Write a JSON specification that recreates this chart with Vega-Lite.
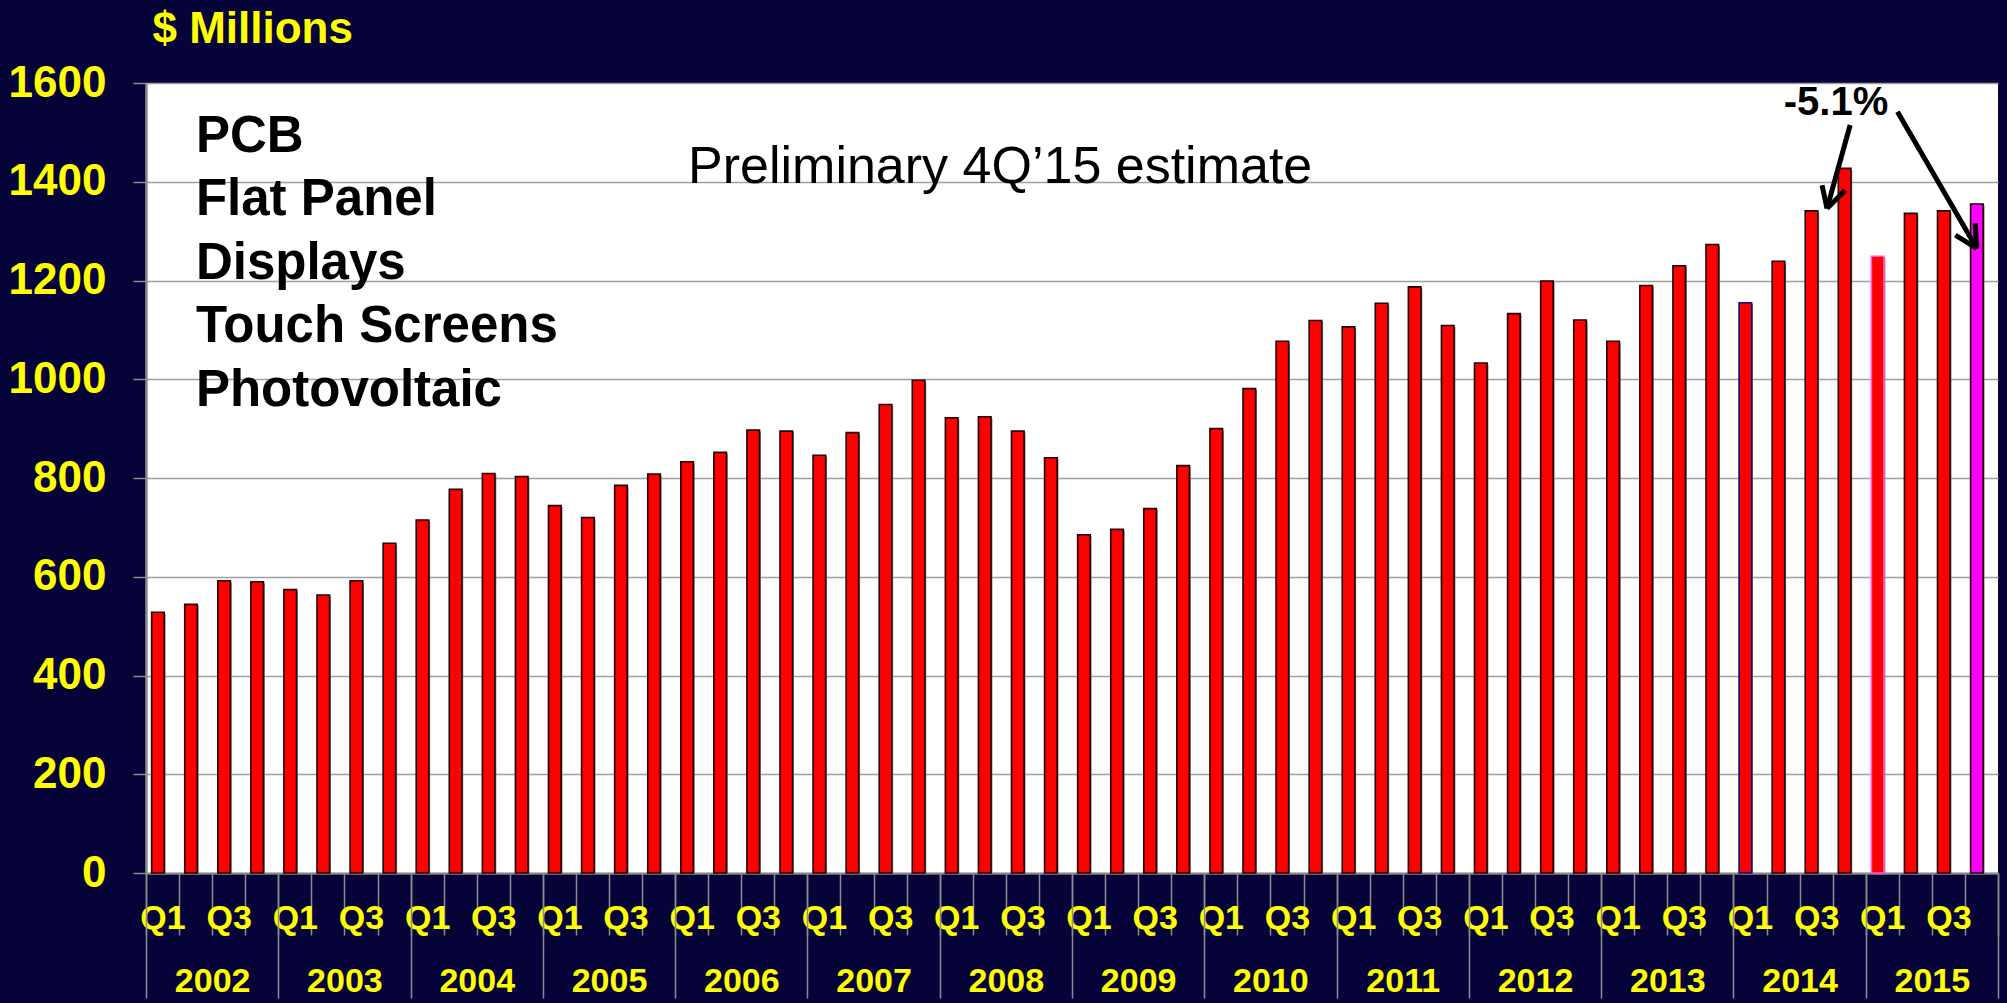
{
  "$schema": "https://vega.github.io/schema/vega-lite/v6.json",
  "width": 1852,
  "height": 790,
  "autosize": {"type": "none"},
  "padding": {"left": 146, "top": 83, "right": 9, "bottom": 130},
  "background": "#060339",
  "config": {
    "view": {"fill": "#FFFFFF", "stroke": null},
    "font": "Liberation Sans",
    "axis": {"labelFont": "Liberation Sans", "titleFont": "Liberation Sans"}
  },
  "datasets": {
    "quarters": [
      {"period": "2002 Q1", "v": 528}, {"period": "2002 Q2", "v": 544}, {"period": "2002 Q3", "v": 592}, {"period": "2002 Q4", "v": 590},
      {"period": "2003 Q1", "v": 574}, {"period": "2003 Q2", "v": 563}, {"period": "2003 Q3", "v": 592}, {"period": "2003 Q4", "v": 668},
      {"period": "2004 Q1", "v": 715}, {"period": "2004 Q2", "v": 777}, {"period": "2004 Q3", "v": 809}, {"period": "2004 Q4", "v": 803},
      {"period": "2005 Q1", "v": 744}, {"period": "2005 Q2", "v": 720}, {"period": "2005 Q3", "v": 785}, {"period": "2005 Q4", "v": 808},
      {"period": "2006 Q1", "v": 833}, {"period": "2006 Q2", "v": 852}, {"period": "2006 Q3", "v": 897}, {"period": "2006 Q4", "v": 895},
      {"period": "2007 Q1", "v": 846}, {"period": "2007 Q2", "v": 892}, {"period": "2007 Q3", "v": 949}, {"period": "2007 Q4", "v": 998},
      {"period": "2008 Q1", "v": 922}, {"period": "2008 Q2", "v": 924}, {"period": "2008 Q3", "v": 895}, {"period": "2008 Q4", "v": 841},
      {"period": "2009 Q1", "v": 685}, {"period": "2009 Q2", "v": 696}, {"period": "2009 Q3", "v": 738}, {"period": "2009 Q4", "v": 825},
      {"period": "2010 Q1", "v": 900}, {"period": "2010 Q2", "v": 981}, {"period": "2010 Q3", "v": 1077}, {"period": "2010 Q4", "v": 1119},
      {"period": "2011 Q1", "v": 1106}, {"period": "2011 Q2", "v": 1154}, {"period": "2011 Q3", "v": 1187}, {"period": "2011 Q4", "v": 1109},
      {"period": "2012 Q1", "v": 1033}, {"period": "2012 Q2", "v": 1133}, {"period": "2012 Q3", "v": 1199}, {"period": "2012 Q4", "v": 1120},
      {"period": "2013 Q1", "v": 1077}, {"period": "2013 Q2", "v": 1190}, {"period": "2013 Q3", "v": 1230}, {"period": "2013 Q4", "v": 1273},
      {"period": "2014 Q1", "v": 1155}, {"period": "2014 Q2", "v": 1239}, {"period": "2014 Q3", "v": 1341}, {"period": "2014 Q4", "v": 1427},
      {"period": "2015 Q1", "v": 1249}, {"period": "2015 Q2", "v": 1336}, {"period": "2015 Q3", "v": 1341}, {"period": "2015 Q4", "v": 1355}
    ],
    "years": [
      {"year": "2002"}, {"year": "2003"}, {"year": "2004"}, {"year": "2005"}, {"year": "2006"}, {"year": "2007"}, {"year": "2008"},
      {"year": "2009"}, {"year": "2010"}, {"year": "2011"}, {"year": "2012"}, {"year": "2013"}, {"year": "2014"}, {"year": "2015"}
    ],
    "list": [
      {"label": "PCB", "x": 1.51, "v": 1461},
      {"label": "Flat Panel", "x": 1.51, "v": 1332},
      {"label": "Displays", "x": 1.51, "v": 1204},
      {"label": "Touch Screens", "x": 1.51, "v": 1075},
      {"label": "Photovoltaic", "x": 1.51, "v": 946}
    ],
    "note": [
      {"label": "Preliminary 4Q\u201915 estimate", "x": 16.39, "v": 1397}
    ],
    "pct": [
      {"label": "-5.1%", "x": 51.1, "v": 1535}
    ],
    "arrows": [
      {"x": 51.53, "v": 1515, "x2": 50.83, "v2": 1346},
      {"x": 50.68, "v": 1393, "x2": 50.83, "v2": 1346},
      {"x": 51.38, "v": 1383, "x2": 50.83, "v2": 1346},
      {"x": 52.96, "v": 1542, "x2": 55.36, "v2": 1265},
      {"x": 54.71, "v": 1292, "x2": 55.36, "v2": 1265},
      {"x": 55.31, "v": 1316, "x2": 55.36, "v2": 1265}
    ]
  },
  "layer": [
    {
      "data": {"name": "quarters"},
      "mark": {"type": "bar", "width": {"band": 0.38}, "xOffset": -3.2, "yOffset": 1.5, "fill": "#7A7A7A", "stroke": null},
      "encoding": {
        "x": {"field": "period", "type": "nominal", "sort": null, "scale": {"paddingInner": 0, "paddingOuter": 0}, "axis": null},
        "y": {"field": "v", "type": "quantitative", "scale": {"domain": [0, 1600], "nice": false}, "axis": null}
      }
    },
    {
      "data": {"name": "quarters"},
      "mark": {"type": "bar", "width": {"band": 0.38}, "xOffset": -4.6, "strokeWidth": 1.6},
      "encoding": {
        "x": {
          "field": "period", "type": "nominal", "sort": null,
          "scale": {"paddingInner": 0, "paddingOuter": 0},
          "axis": {
            "orient": "bottom", "title": null, "labelAngle": 0, "tickBand": "extent",
            "tickSize": 62, "tickColor": "#8C8C8C", "tickWidth": 1.5,
            "domainColor": "#8C8C8C", "domainWidth": 2,
            "labelColor": "#FFFF00", "labelFontSize": 34, "labelFontWeight": "bold",
            "labelBaseline": "alphabetic", "labelPadding": -7,
            "labelOverlap": false, "labelBound": false, "labelFlush": false, "grid": false,
            "labelExpr": "(slice(datum.label, 5) === 'Q1' || slice(datum.label, 5) === 'Q3') ? slice(datum.label, 5) : ''"
          }
        },
        "y": {
          "field": "v", "type": "quantitative",
          "scale": {"domain": [0, 1600], "nice": false},
          "axis": {
            "orient": "left", "format": "d",
            "title": "$ Millions", "titleAngle": 0, "titleX": 6, "titleY": -41,
            "titleAlign": "left", "titleBaseline": "alphabetic", "titleColor": "#FFFF00",
            "titleFontSize": 44, "titleFontWeight": "bold",
            "values": [0, 200, 400, 600, 800, 1000, 1200, 1400, 1600],
            "labelColor": "#FFFF00", "labelFontSize": 44, "labelFontWeight": "bold",
            "labelPadding": 27, "labelFlush": false, "labelBound": false, "labelOverlap": false,
            "tickSize": 13, "tickColor": "#8C8C8C", "tickWidth": 1.5,
            "domainColor": "#8C8C8C", "domainWidth": 2.5,
            "grid": true, "gridColor": "#A0A0A0", "gridWidth": 1.5
          }
        },
        "fill": {"condition": {"test": "datum.period === '2015 Q4'", "value": "#FF00FF"}, "value": "#FF0000"},
        "stroke": {
          "condition": [
            {"test": "datum.period === '2014 Q1'", "value": "#101070"},
            {"test": "datum.period === '2015 Q1'", "value": "#FF55DD"}
          ],
          "value": "#200000"
        }
      }
    },
    {
      "data": {"name": "years"},
      "mark": {"type": "rule", "opacity": 0},
      "encoding": {
        "x": {
          "field": "year", "type": "nominal", "sort": null,
          "scale": {"paddingInner": 0, "paddingOuter": 0},
          "axis": {
            "orient": "bottom", "title": null, "labelAngle": 0, "tickBand": "extent",
            "tickSize": 125, "tickColor": "#8C8C8C", "tickWidth": 1.5, "domain": false,
            "labelColor": "#FFFF00", "labelFontSize": 34, "labelFontWeight": "bold",
            "labelBaseline": "alphabetic", "labelPadding": -7,
            "labelOverlap": false, "labelBound": false, "labelFlush": false, "grid": false
          }
        }
      }
    },
    {
      "data": {"name": "list"},
      "mark": {"type": "text", "align": "left", "baseline": "alphabetic", "fontSize": 51, "fontWeight": "bold", "color": "#000000"},
      "encoding": {
        "x": {"field": "x", "type": "quantitative", "scale": {"domain": [0, 56], "nice": false, "zero": false}, "axis": null},
        "y": {"field": "v", "type": "quantitative", "scale": {"domain": [0, 1600], "nice": false}, "axis": null},
        "text": {"field": "label"}
      }
    },
    {
      "data": {"name": "note"},
      "mark": {"type": "text", "align": "left", "baseline": "alphabetic", "fontSize": 52, "fontWeight": "normal", "color": "#000000"},
      "encoding": {
        "x": {"field": "x", "type": "quantitative", "scale": {"domain": [0, 56], "nice": false, "zero": false}, "axis": null},
        "y": {"field": "v", "type": "quantitative", "scale": {"domain": [0, 1600], "nice": false}, "axis": null},
        "text": {"field": "label"}
      }
    },
    {
      "data": {"name": "pct"},
      "mark": {"type": "text", "align": "center", "baseline": "alphabetic", "fontSize": 40, "fontWeight": "bold", "color": "#000000"},
      "encoding": {
        "x": {"field": "x", "type": "quantitative", "scale": {"domain": [0, 56], "nice": false, "zero": false}, "axis": null},
        "y": {"field": "v", "type": "quantitative", "scale": {"domain": [0, 1600], "nice": false}, "axis": null},
        "text": {"field": "label"}
      }
    },
    {
      "data": {"name": "arrows"},
      "mark": {"type": "rule", "strokeWidth": 5, "color": "#000000", "strokeCap": "butt"},
      "encoding": {
        "x": {"field": "x", "type": "quantitative", "scale": {"domain": [0, 56], "nice": false, "zero": false}, "axis": null},
        "x2": {"field": "x2"},
        "y": {"field": "v", "type": "quantitative", "scale": {"domain": [0, 1600], "nice": false}, "axis": null},
        "y2": {"field": "v2"}
      }
    }
  ],
  "resolve": {"scale": {"x": "independent"}, "axis": {"x": "independent", "y": "independent"}}
}
